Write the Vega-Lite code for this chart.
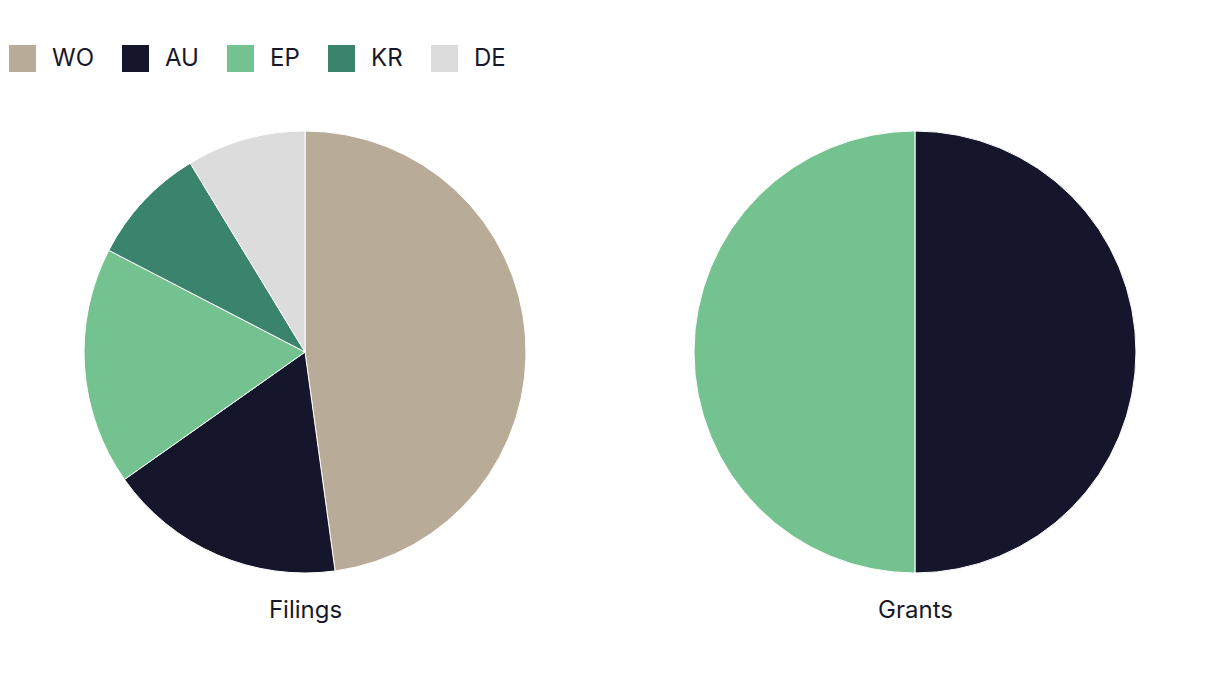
{
  "$schema": "https://vega.github.io/schema/vega-lite/v6.json",
  "width": 1050,
  "height": 440,
  "autosize": {"type": "none"},
  "padding": {"left": 85, "top": 132, "right": 85, "bottom": 114},
  "background": "white",
  "config": {
    "view": {"stroke": null},
    "font": "Inter",
    "text": {"font": "Inter"}
  },
  "data": {
    "values": [
      {"chart": "Filings", "office": "WO", "count": 11, "order": 1},
      {"chart": "Filings", "office": "AU", "count": 4, "order": 2},
      {"chart": "Filings", "office": "EP", "count": 4, "order": 3},
      {"chart": "Filings", "office": "KR", "count": 2, "order": 4},
      {"chart": "Filings", "office": "DE", "count": 2, "order": 5},
      {"chart": "Grants", "office": "AU", "count": 1, "order": 2},
      {"chart": "Grants", "office": "EP", "count": 1, "order": 3}
    ]
  },
  "transform": [
    {"stack": "count", "groupby": ["chart"], "sort": [{"field": "order", "order": "ascending"}], "offset": "normalize", "as": ["t0", "t1"]}
  ],
  "mark": {"type": "arc", "stroke": "white", "strokeWidth": 1, "outerRadius": 221},
  "encoding": {
    "x": {
      "field": "chart",
      "type": "nominal",
      "scale": {"type": "point", "padding": 0.3607},
      "axis": {
        "title": null,
        "orient": "bottom",
        "domain": false,
        "ticks": false,
        "grid": false,
        "labelFontSize": 24,
        "labelFont": "Inter",
        "labelColor": "#181829",
        "labelPadding": 26,
        "labelAngle": 0
      }
    },
    "theta": {"field": "t0", "type": "quantitative", "scale": {"domain": [0, 1]}},
    "theta2": {"field": "t1"},
    "color": {
      "field": "office",
      "type": "nominal",
      "scale": {
        "domain": ["WO", "AU", "EP", "KR", "DE"],
        "range": ["#b8ab97", "#15152b", "#73c290", "#3a836c", "#dcdcdc"]
      },
      "legend": {
        "title": null,
        "orient": "none",
        "direction": "horizontal",
        "legendX": -76,
        "legendY": -87,
        "symbolType": "square",
        "symbolSize": 729,
        "symbolStrokeWidth": 0,
        "symbolOpacity": 1,
        "labelFontSize": 24,
        "labelFont": "Inter",
        "labelColor": "#181829",
        "labelOffset": 16,
        "columnPadding": 28
      }
    },
    "order": {"field": "order", "type": "quantitative"}
  }
}
